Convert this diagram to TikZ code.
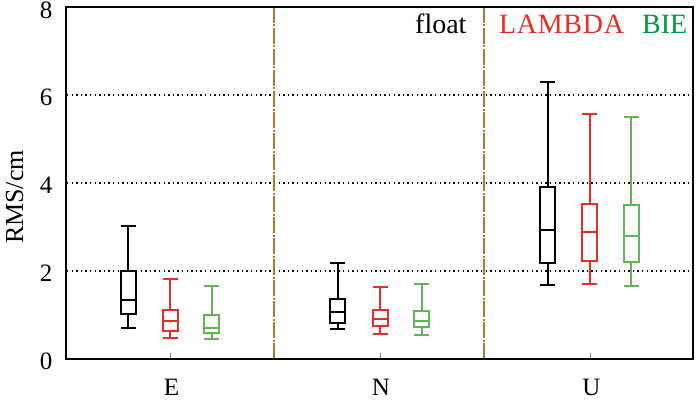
\documentclass[tikz,border=0pt]{standalone}
\usepackage{fontspec}
\setmainfont{Liberation Serif}
\definecolor{bred}{RGB}{232,45,40}
\definecolor{bgreen}{RGB}{95,182,85}
\definecolor{lgreen}{RGB}{0,150,60}
\definecolor{divbrown}{RGB}{176,120,50}
\newcommand\bxpdraw[7]{%
  \draw[boxln,#2] (#1-7.5,#3) -- (#1+7.5,#3) (#1,#3) -- (#1,#4)
    (#1-7.5,#4) rectangle (#1+7.5,#6) (#1-7.5,#5) -- (#1+7.5,#5)
    (#1,#6) -- (#1,#7) (#1-7.5,#7) -- (#1+7.5,#7);}
\tikzset{
  boxln/.style={line width=2pt},
  gridln/.style={line width=1.4pt, dash pattern=on 1.4pt off 3.2pt},
  divln/.style={divbrown, line width=2pt, dash pattern=on 16pt off 1.5pt on 2pt off 1.5pt},
  ticklab/.style={anchor=east, inner sep=0pt, font=\fontsize{25}{25}\selectfont},
  catlab/.style={anchor=base, inner sep=0pt, font=\fontsize{25}{25}\selectfont},
  leglab/.style={anchor=base west, inner sep=0pt, font=\fontsize{28}{28}\selectfont},
}
\begin{document}
\begin{tikzpicture}[x=1pt,y=-1pt]
\fill[white] (0,0) rectangle (700,401);
\useasboundingbox (0,0) rectangle (700,401);
% grid
\foreach \gy in {95,183,271} \draw[gridln] (67,\gy) -- (692,\gy);
% dividers
\draw[divln] (274,7) -- (274,359);
\draw[divln] (484,7) -- (484,359);
% category ticks
\foreach \tx in {170,380,590} \draw[gray, line width=1pt] (\tx,359) -- (\tx,353);
% boxes E
\bxpdraw{128}{black}{226}{271}{300}{314}{328}
\bxpdraw{170}{bred}{279}{310}{321}{331}{338}
\bxpdraw{211.5}{bgreen}{286}{315}{328}{333}{339}
% boxes N
\bxpdraw{337.5}{black}{263}{299}{312}{323}{329}
\bxpdraw{380}{bred}{287}{310}{318.5}{326}{334}
\bxpdraw{421.5}{bgreen}{283.5}{311}{320.7}{327.3}{335}
% boxes U
\bxpdraw{547.5}{black}{81.7}{186.7}{230.3}{263}{285}
\bxpdraw{589.5}{bred}{114.3}{204}{232.3}{261}{283.7}
\bxpdraw{631}{bgreen}{117.3}{205}{235.7}{261.7}{285.7}
% frame
\draw[line width=2pt] (66,7) rectangle (693,359);
% tick labels
\node[ticklab] (t0) at (52.5,361.5) {0};
\node[ticklab] (t2) at (52.5,273.5) {2};
\node[ticklab] (t4) at (52.5,185.5) {4};
\node[ticklab] (t6) at (52.5,97.5) {6};
\node[ticklab] (t8) at (52.5,10.5) {8};
% category labels
\node[catlab] (lE) at (171.5,395.5) {E};
\node[catlab] (lN) at (381,395.5) {N};
\node[catlab] (lU) at (591.5,395.5) {U};
% y label
\node[rotate=90, anchor=base, inner sep=0pt, font=\fontsize{26}{26}\selectfont] (ylab) at (23,197) {RMS/cm};
% legend
\node[leglab] (gfloat) at (415,34) {float};
\node[leglab, text=bred, font=\fontsize{28}{28}\selectfont\addfontfeature{LetterSpace=2.5}] (glam) at (499,34) {LAMBDA};
\node[leglab, text=lgreen] (gbie) at (642,34) {BIE};
\end{tikzpicture}
\end{document}
